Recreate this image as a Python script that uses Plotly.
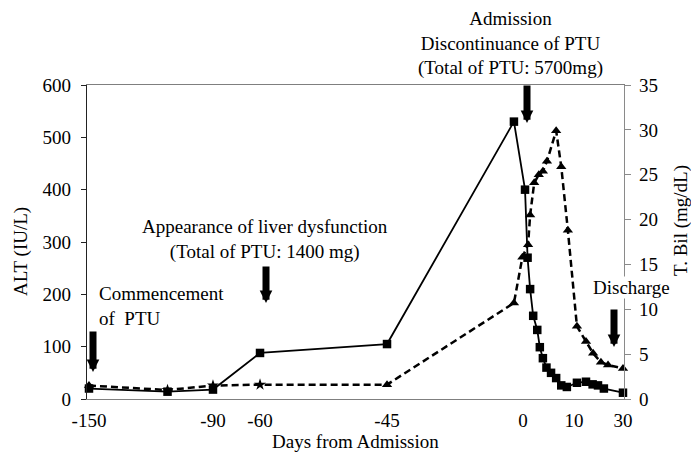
import numpy as np
import plotly.graph_objects as go

# ---------------- data ----------------
TICK_DAYS = [-150, -90, -60, -45, 0, 10, 30]
TICK_LABELS = ["-150", "-90", "-60", "-45", "0", "10", "30"]
# the original x axis is piecewise scaled; fraction of axis width for each tick day
AXIS_BREAKS = [0.0037, 0.2346, 0.3222, 0.5587, 0.8119, 0.9069, 0.9981]

ALT_DAYS = [-150, -112, -90, -60, -45, -3, 0.4, 0.9, 1.4, 2.0, 2.8, 3.3, 3.9, 4.6,
            5.5, 6.5, 7.5, 8.6, 11.2, 14.9, 17.6, 19.8, 22.2, 30]
ALT = [20, 14, 18, 88, 105, 530, 400, 270, 210, 159, 132, 99, 78, 60,
       50, 40, 26, 23, 31, 33, 28, 26, 20, 12]

TBIL_DAYS = [-150, -112, -90, -60, -45, -3, -0.2, 1.0, 1.4, 2.2, 3.1, 3.9, 4.7,
             6.5, 7.5, 8.8, 11.2, 14.9, 17.8, 21.0, 23.9, 30]
TBIL = [1.5, 1.0, 1.5, 1.6, 1.6, 10.7, 15.8, 17.2, 20.5, 24.1, 25.0, 25.4, 26.5,
        29.9, 25.9, 18.8, 8.1, 6.4, 5.1, 4.1, 3.8, 3.4]
TBIL_SYMBOLS = ["triangle-up", "star", "star", "star"] + ["triangle-up"] * (len(TBIL) - 4)


def warp(days):
    return np.interp(days, TICK_DAYS, AXIS_BREAKS)


FONT = "Liberation Serif, Times New Roman, serif"
W, H = 691, 453
ML, MR, MT, MB = 87, 67, 85, 54


def px(xp):
    return (xp - ML) / (W - ML - MR)


def py(yp):
    return (H - MB - yp) / (H - MT - MB)


fig = go.Figure()
fig.add_trace(go.Scatter(
    x=warp(TBIL_DAYS), y=TBIL, yaxis="y2", mode="lines+markers",
    line=dict(color="black", width=2.5, dash="7px,4px"),
    marker=dict(symbol=TBIL_SYMBOLS, size=9, color="black"),
    name="T. Bil", cliponaxis=False,
))
fig.add_trace(go.Scatter(
    x=warp(ALT_DAYS), y=ALT, mode="lines+markers",
    line=dict(color="black", width=1.8),
    marker=dict(symbol="square", size=8.5, color="black"),
    name="ALT", cliponaxis=False,
))

annotations = []
# text labels
annotations.append(dict(xref="paper", yref="paper", x=px(510), y=py(44),
                        text="Admission<br>Discontinuance of PTU<br>(Total of PTU: 5700mg)",
                        showarrow=False, xanchor="center", yanchor="middle", align="center"))
annotations.append(dict(xref="paper", yref="paper", x=px(265), y=py(239),
                        text="Appearance of liver dysfunction<br>(Total of PTU: 1400 mg)",
                        showarrow=False, xanchor="center", yanchor="middle", align="center"))
annotations.append(dict(xref="paper", yref="paper", x=px(97), y=py(306),
                        text="Commencement<br>of\u00a0 PTU",
                        showarrow=False, xanchor="left", yanchor="middle", align="left"))
annotations.append(dict(xref="paper", yref="paper", x=px(631), y=py(287),
                        text="Discharge", showarrow=False, xanchor="center", yanchor="middle",
                        bgcolor="white", borderpad=0))
# axis titles
annotations.append(dict(xref="paper", yref="paper", x=px(355), y=py(441),
                        text="Days from Admission", showarrow=False,
                        xanchor="center", yanchor="middle"))
annotations.append(dict(xref="paper", yref="paper", x=px(21), y=py(252),
                        text="ALT (IU/L)", showarrow=False, textangle=-90,
                        xanchor="center", yanchor="middle"))
annotations.append(dict(xref="paper", yref="paper", x=px(681), y=py(221),
                        text="T. Bil (mg/dL)", showarrow=False, textangle=-90,
                        xanchor="center", yanchor="middle"))
# thick arrows (tip x, tip y, tail y in pixels)
for tx, ty, tail in [(93, 372, 330), (266, 303, 265), (527, 123, 84), (614, 347, 308)]:
    annotations.append(dict(xref="paper", yref="paper", x=px(tx), y=py(ty),
                            ax=0, ay=tail - ty, text="", showarrow=True,
                            arrowhead=2, arrowwidth=7, arrowsize=0.36, arrowcolor="black"))

fig.update_layout(
    width=W, height=H,
    margin=dict(l=ML, r=MR, t=MT, b=MB, pad=0),
    paper_bgcolor="white", plot_bgcolor="white",
    showlegend=False,
    font=dict(family=FONT, size=19, color="black"),
    xaxis=dict(range=[0, 1], tickmode="array", tickvals=warp(TICK_DAYS), ticktext=TICK_LABELS,
               showgrid=False, zeroline=False, showline=True, linecolor="#7f7f7f", linewidth=1.3,
               mirror=True, ticks="", ticklabelstandoff=4),
    yaxis=dict(range=[0, 600], dtick=100, showgrid=False, zeroline=False, showline=True,
               linecolor="#222222", linewidth=1.3, ticks="outside", ticklen=5, tickcolor="#222222",
               ticklabelstandoff=6),
    yaxis2=dict(range=[0, 35], dtick=5, overlaying="y", side="right", showgrid=False,
                zeroline=False, showline=True, linecolor="#8a8a8a", linewidth=1.3,
                ticks="outside", ticklen=6, tickcolor="#8a8a8a", ticklabelstandoff=4),
    annotations=annotations,
)

fig.write_html("out.html", config={"displayModeBar": False},
               post_script="document.body.style.margin='0';")
